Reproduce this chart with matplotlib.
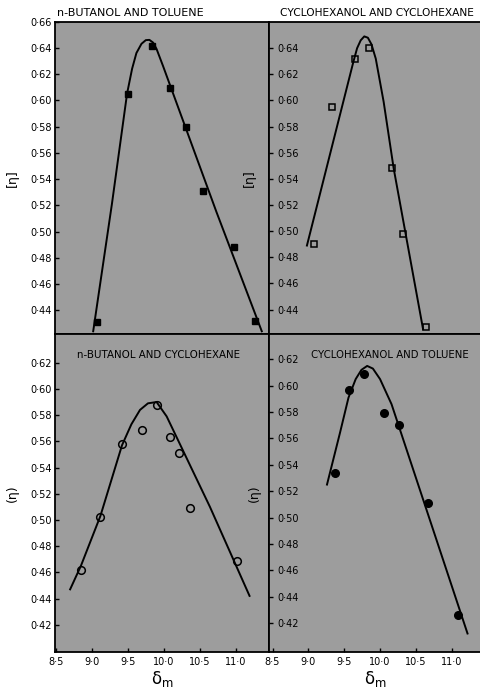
import numpy as np
import matplotlib.pyplot as plt
from matplotlib.ticker import FixedLocator, FuncFormatter

# ---- data ----
# n-butanol and toluene (filled squares)
bt_x = [9.07, 9.51, 9.83, 10.09, 10.31, 10.55, 10.98, 11.27]
bt_y = [0.431, 0.605, 0.641, 0.609, 0.580, 0.531, 0.488, 0.432]
bt_cx = [9.02, 9.28, 9.49, 9.56, 9.62, 9.69, 9.75, 9.80, 9.85, 9.90, 9.99, 10.13, 10.73, 11.36]
bt_cy = [0.424, 0.521, 0.605, 0.624, 0.636, 0.643, 0.6458, 0.646, 0.644, 0.639, 0.626, 0.605, 0.515, 0.424]

# cyclohexanol and cyclohexane (open squares)
cc_x = [9.08, 9.33, 9.65, 9.84, 10.17, 10.32, 10.64]
cc_y = [0.490, 0.595, 0.632, 0.640, 0.548, 0.498, 0.427]
cc_cx = [8.98, 9.63, 9.68, 9.73, 9.78, 9.83, 9.88, 9.94, 10.05, 10.19, 10.60]
cc_cy = [0.489, 0.630, 0.640, 0.646, 0.649, 0.648, 0.643, 0.632, 0.599, 0.548, 0.425]

# n-butanol and cyclohexane (open circles)
bc_x = [8.85, 9.12, 9.42, 9.70, 9.90, 10.08, 10.21, 10.37, 11.01]
bc_y = [0.462, 0.502, 0.558, 0.569, 0.588, 0.563, 0.551, 0.509, 0.469]
bc_cx = [8.70, 8.85, 9.12, 9.42, 9.55, 9.67, 9.78, 9.90, 10.04, 10.64, 11.19]
bc_cy = [0.447, 0.465, 0.503, 0.557, 0.573, 0.584, 0.589, 0.590, 0.579, 0.510, 0.442]

# cyclohexanol and toluene (filled circles)
ct_x = [9.37, 9.56, 9.78, 10.06, 10.27, 10.67, 11.09]
ct_y = [0.534, 0.597, 0.609, 0.579, 0.570, 0.511, 0.426]
ct_cx = [9.26, 9.44, 9.56, 9.66, 9.74, 9.82, 9.90, 10.00, 10.16, 11.22]
ct_cy = [0.525, 0.564, 0.591, 0.605, 0.612, 0.615, 0.613, 0.605, 0.586, 0.412]

xticks = [8.5, 9.0, 9.5, 10.0, 10.5, 11.0]
yticks_top_left = [0.44, 0.46, 0.48, 0.50, 0.52, 0.54, 0.56, 0.58, 0.60, 0.62, 0.64, 0.66]
yticks_top_right = [0.44, 0.46, 0.48, 0.50, 0.52, 0.54, 0.56, 0.58, 0.60, 0.62, 0.64]
yticks_bottom = [0.42, 0.44, 0.46, 0.48, 0.50, 0.52, 0.54, 0.56, 0.58, 0.60, 0.62]

titles = ["n-BUTANOL AND TOLUENE", "CYCLOHEXANOL AND CYCLOHEXANE",
          "n-BUTANOL AND CYCLOHEXANE", "CYCLOHEXANOL AND TOLUENE"]

bg = "#9d9d9d"
W, Hpx = 481, 690

fig = plt.figure(figsize=(W / 100, Hpx / 100), dpi=100)

L = 55 / W
M = 269.5 / W
T = 1 - 21.5 / Hpx
MID = 1 - 334.3 / Hpx
B = 1 - 651.7 / Hpx

ax_tl = fig.add_axes([L, MID, M - L, T - MID])
ax_tr = fig.add_axes([M, MID, 1 - M, T - MID])
ax_bl = fig.add_axes([L, B, M - L, MID - B])
ax_br = fig.add_axes([M, B, 1 - M, MID - B])

dotfmt = FuncFormatter(lambda v, p: ("%.2f" % v).replace(".", "\u00b7"))
xfmt = FuncFormatter(lambda v, p: ("%.1f" % v).replace(".", "\u00b7"))

for ax in [ax_tl, ax_tr, ax_bl, ax_br]:
    ax.set_facecolor(bg)
    for s in ax.spines.values():
        s.set_linewidth(1.3)
    ax.yaxis.set_major_formatter(dotfmt)

# line + markers
ax_tl.plot(bt_cx, bt_cy, color="black", lw=1.4)
ax_tl.plot(bt_x, bt_y, "s", color="black", ms=5)
ax_tr.plot(cc_cx, cc_cy, color="black", lw=1.4)
ax_tr.plot(cc_x, cc_y, "s", mfc="none", mec="black", mew=1.1, ms=4.5)
ax_bl.plot(bc_cx, bc_cy, color="black", lw=1.4)
ax_bl.plot(bc_x, bc_y, "o", mfc="none", mec="black", mew=1.1, ms=5.5)
ax_br.plot(ct_cx, ct_cy, color="black", lw=1.4)
ax_br.plot(ct_x, ct_y, "o", color="black", ms=5.5)

# limits
for ax in [ax_tl, ax_bl]:
    ax.set_xlim(8.49, 11.467)
for ax in [ax_tr, ax_br]:
    ax.set_xlim(8.458, 11.408)
ax_tl.set_ylim(0.4217, 0.66)
ax_tr.set_ylim(0.4211, 0.6604)
ax_bl.set_ylim(0.3994, 0.6417)
ax_br.set_ylim(0.3982, 0.639)

ax_tl.yaxis.set_major_locator(FixedLocator(yticks_top_left))
ax_tr.yaxis.set_major_locator(FixedLocator(yticks_top_right))
ax_bl.yaxis.set_major_locator(FixedLocator(yticks_bottom))
ax_br.yaxis.set_major_locator(FixedLocator(yticks_bottom))

# left panels: labels outside
for ax in [ax_tl, ax_bl]:
    ax.tick_params(axis="y", direction="in", length=3, width=1, pad=2.5, labelsize=7)
# right panels: labels inside the frame
for ax in [ax_tr, ax_br]:
    ax.tick_params(axis="y", direction="in", length=3, width=1, pad=-5.5, labelsize=7)
    for lab in ax.get_yticklabels():
        lab.set_horizontalalignment("left")
    ax.spines["right"].set_visible(False)

# x axes
for ax in [ax_tl, ax_tr]:
    ax.set_xticks([])
for ax in [ax_bl, ax_br]:
    ax.xaxis.set_major_locator(FixedLocator(xticks))
    ax.xaxis.set_major_formatter(xfmt)
    ax.tick_params(axis="x", direction="in", length=3, width=1, pad=4, labelsize=7)
    ax.set_xlabel("\u03b4$_\\mathrm{m}$", fontsize=12, labelpad=1)

# y labels
ax_tl.set_ylabel("[\u03b7]", fontsize=9)
ax_tl.yaxis.set_label_coords(-0.17, 0.5)
ax_bl.set_ylabel("(\u03b7)", fontsize=9)
ax_bl.yaxis.set_label_coords(-0.17, 0.5)
ax_tr.set_ylabel("[\u03b7]", fontsize=9)
ax_tr.yaxis.set_label_coords(-0.065, 0.5)
ax_br.set_ylabel("(\u03b7)", fontsize=9)
ax_br.yaxis.set_label_coords(-0.04, 0.5)

# titles
fig.text(57 / W, 1 - 13 / Hpx, titles[0], ha="left", va="center", fontsize=8)
fig.text(474 / W, 1 - 13 / Hpx, titles[1], ha="right", va="center", fontsize=7.7)
fig.text(158.5 / W, 1 - 355 / Hpx, titles[2], ha="center", va="center", fontsize=7.4)
fig.text(389.5 / W, 1 - 355 / Hpx, titles[3], ha="center", va="center", fontsize=7.3)

fig.savefig("out.png", dpi=100)
